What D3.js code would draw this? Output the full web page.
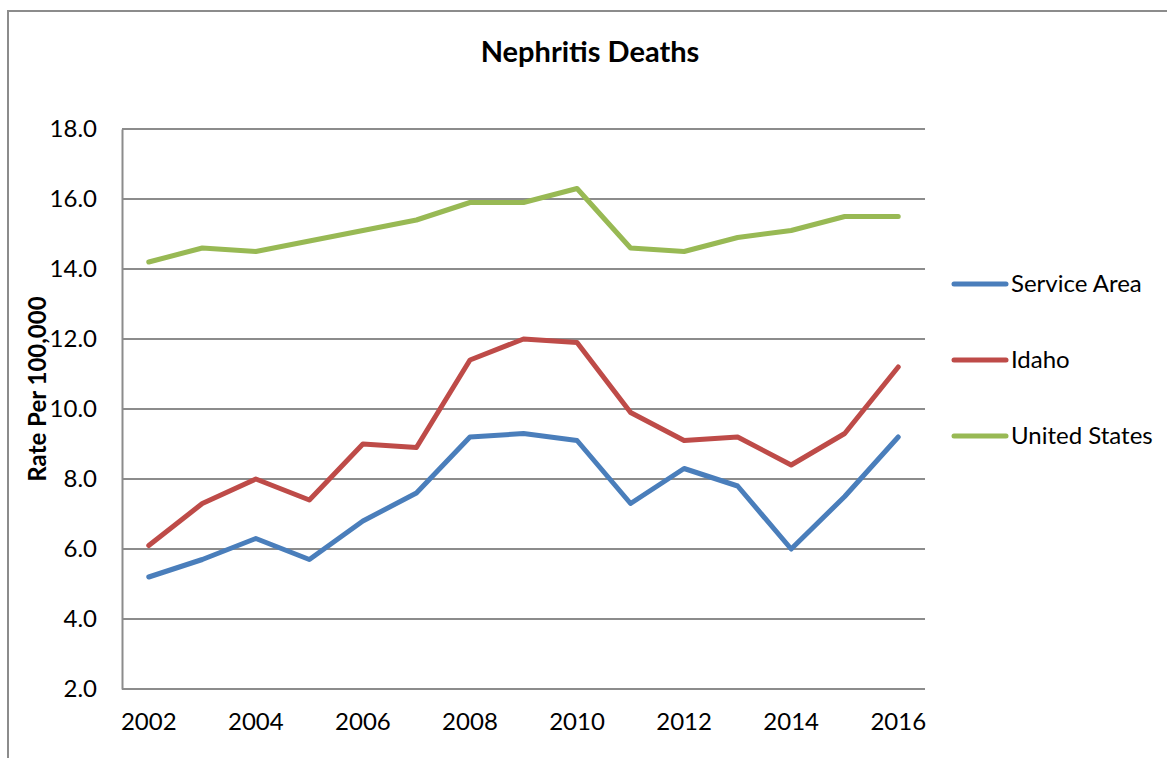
<!DOCTYPE html>
<html><head><meta charset="utf-8">
<script src="https://cdn.jsdelivr.net/npm/d3@7"></script>
<style>body{margin:0;background:#fff}svg{display:block}</style>
</head><body>
<script>
const years = [2002,2003,2004,2005,2006,2007,2008,2009,2010,2011,2012,2013,2014,2015,2016];
const serviceArea = [5.2,5.7,6.3,5.7,6.8,7.6,9.2,9.3,9.1,7.3,8.3,7.8,6.0,7.5,9.2];
const idaho = [6.1,7.3,8.0,7.4,9.0,8.9,11.4,12.0,11.9,9.9,9.1,9.2,8.4,9.3,11.2];
const unitedStates = [14.2,14.6,14.5,14.8,15.1,15.4,15.9,15.9,16.3,14.6,14.5,14.9,15.1,15.5,15.5];
const yTicks = [2,4,6,8,10,12,14,16,18];
const xTickLabels = [2002,2004,2006,2008,2010,2012,2014,2016];
const seriesNames = ["Service Area","Idaho","United States"];
const colors = ["#4a7ebb","#be4b48","#98b954"];

const W=1167,H=758;
const svg=d3.select("body").append("svg").attr("width",W).attr("height",H);
const font="Lato, 'Open Sans', sans-serif";
// outer border
svg.append("path").attr("d","M8,758 V11 H1167").attr("fill","none").attr("stroke","#8c8c8c").attr("stroke-width",2);

const L=122,R=925,T=129,B=689;
const x=d3.scaleBand().domain(years).range([L,R]);
const y=d3.scaleLinear().domain([2,18]).range([B,T]);

const g=svg.append("g");
// gridlines
g.selectAll("line.grid").data(yTicks).join("line")
 .attr("x1",L).attr("x2",R).attr("y1",d=>y(d)).attr("y2",d=>y(d))
 .attr("stroke","#8c8c8c").attr("stroke-width",2);
// y axis
const ya=svg.append("g").attr("transform",`translate(${L},0)`)
 .call(d3.axisLeft(y).tickValues(yTicks).tickSize(0).tickPadding(25).tickFormat(d3.format(".1f")));
ya.select(".domain").attr("stroke","#8c8c8c").attr("stroke-width",2);
ya.selectAll("text").attr("font-family",font).attr("font-size",24).attr("fill","#000");
// x axis
const xa=svg.append("g").attr("transform",`translate(0,${B})`)
 .call(d3.axisBottom(x).tickValues(xTickLabels).tickSize(0).tickPadding(24).tickFormat(d=>d));
xa.select(".domain").remove();
xa.selectAll("text").attr("font-family",font).attr("font-size",24).attr("fill","#000");

const cx=d=>x(d)+x.bandwidth()/2;
const data=[serviceArea,idaho,unitedStates];
const line=d3.line().x((d,i)=>cx(years[i])).y(d=>y(d));
data.forEach((s,k)=>{
  svg.append("path").attr("d",line(s)).attr("fill","none").attr("stroke",colors[k])
   .attr("stroke-width",5).attr("stroke-linejoin","round").attr("stroke-linecap","round");
});

// title
svg.append("text").attr("x",590).attr("y",62).attr("text-anchor","middle")
 .attr("font-family",font).attr("font-weight","bold").attr("font-size",29).text("Nephritis Deaths");
// y label
svg.append("text").attr("transform","translate(46,389) rotate(-90)").attr("text-anchor","middle")
 .attr("font-family",font).attr("font-weight","bold").attr("font-size",24).text("Rate Per 100,000");

// legend
const ly=[284,360,436];
seriesNames.forEach((n,k)=>{
  svg.append("line").attr("x1",954).attr("x2",1006).attr("y1",ly[k]).attr("y2",ly[k])
   .attr("stroke",colors[k]).attr("stroke-width",5).attr("stroke-linecap","round");
  svg.append("text").attr("x",1011).attr("y",ly[k]+8).attr("font-family",font).attr("font-size",24).text(n);
});
</script>
</body></html>
